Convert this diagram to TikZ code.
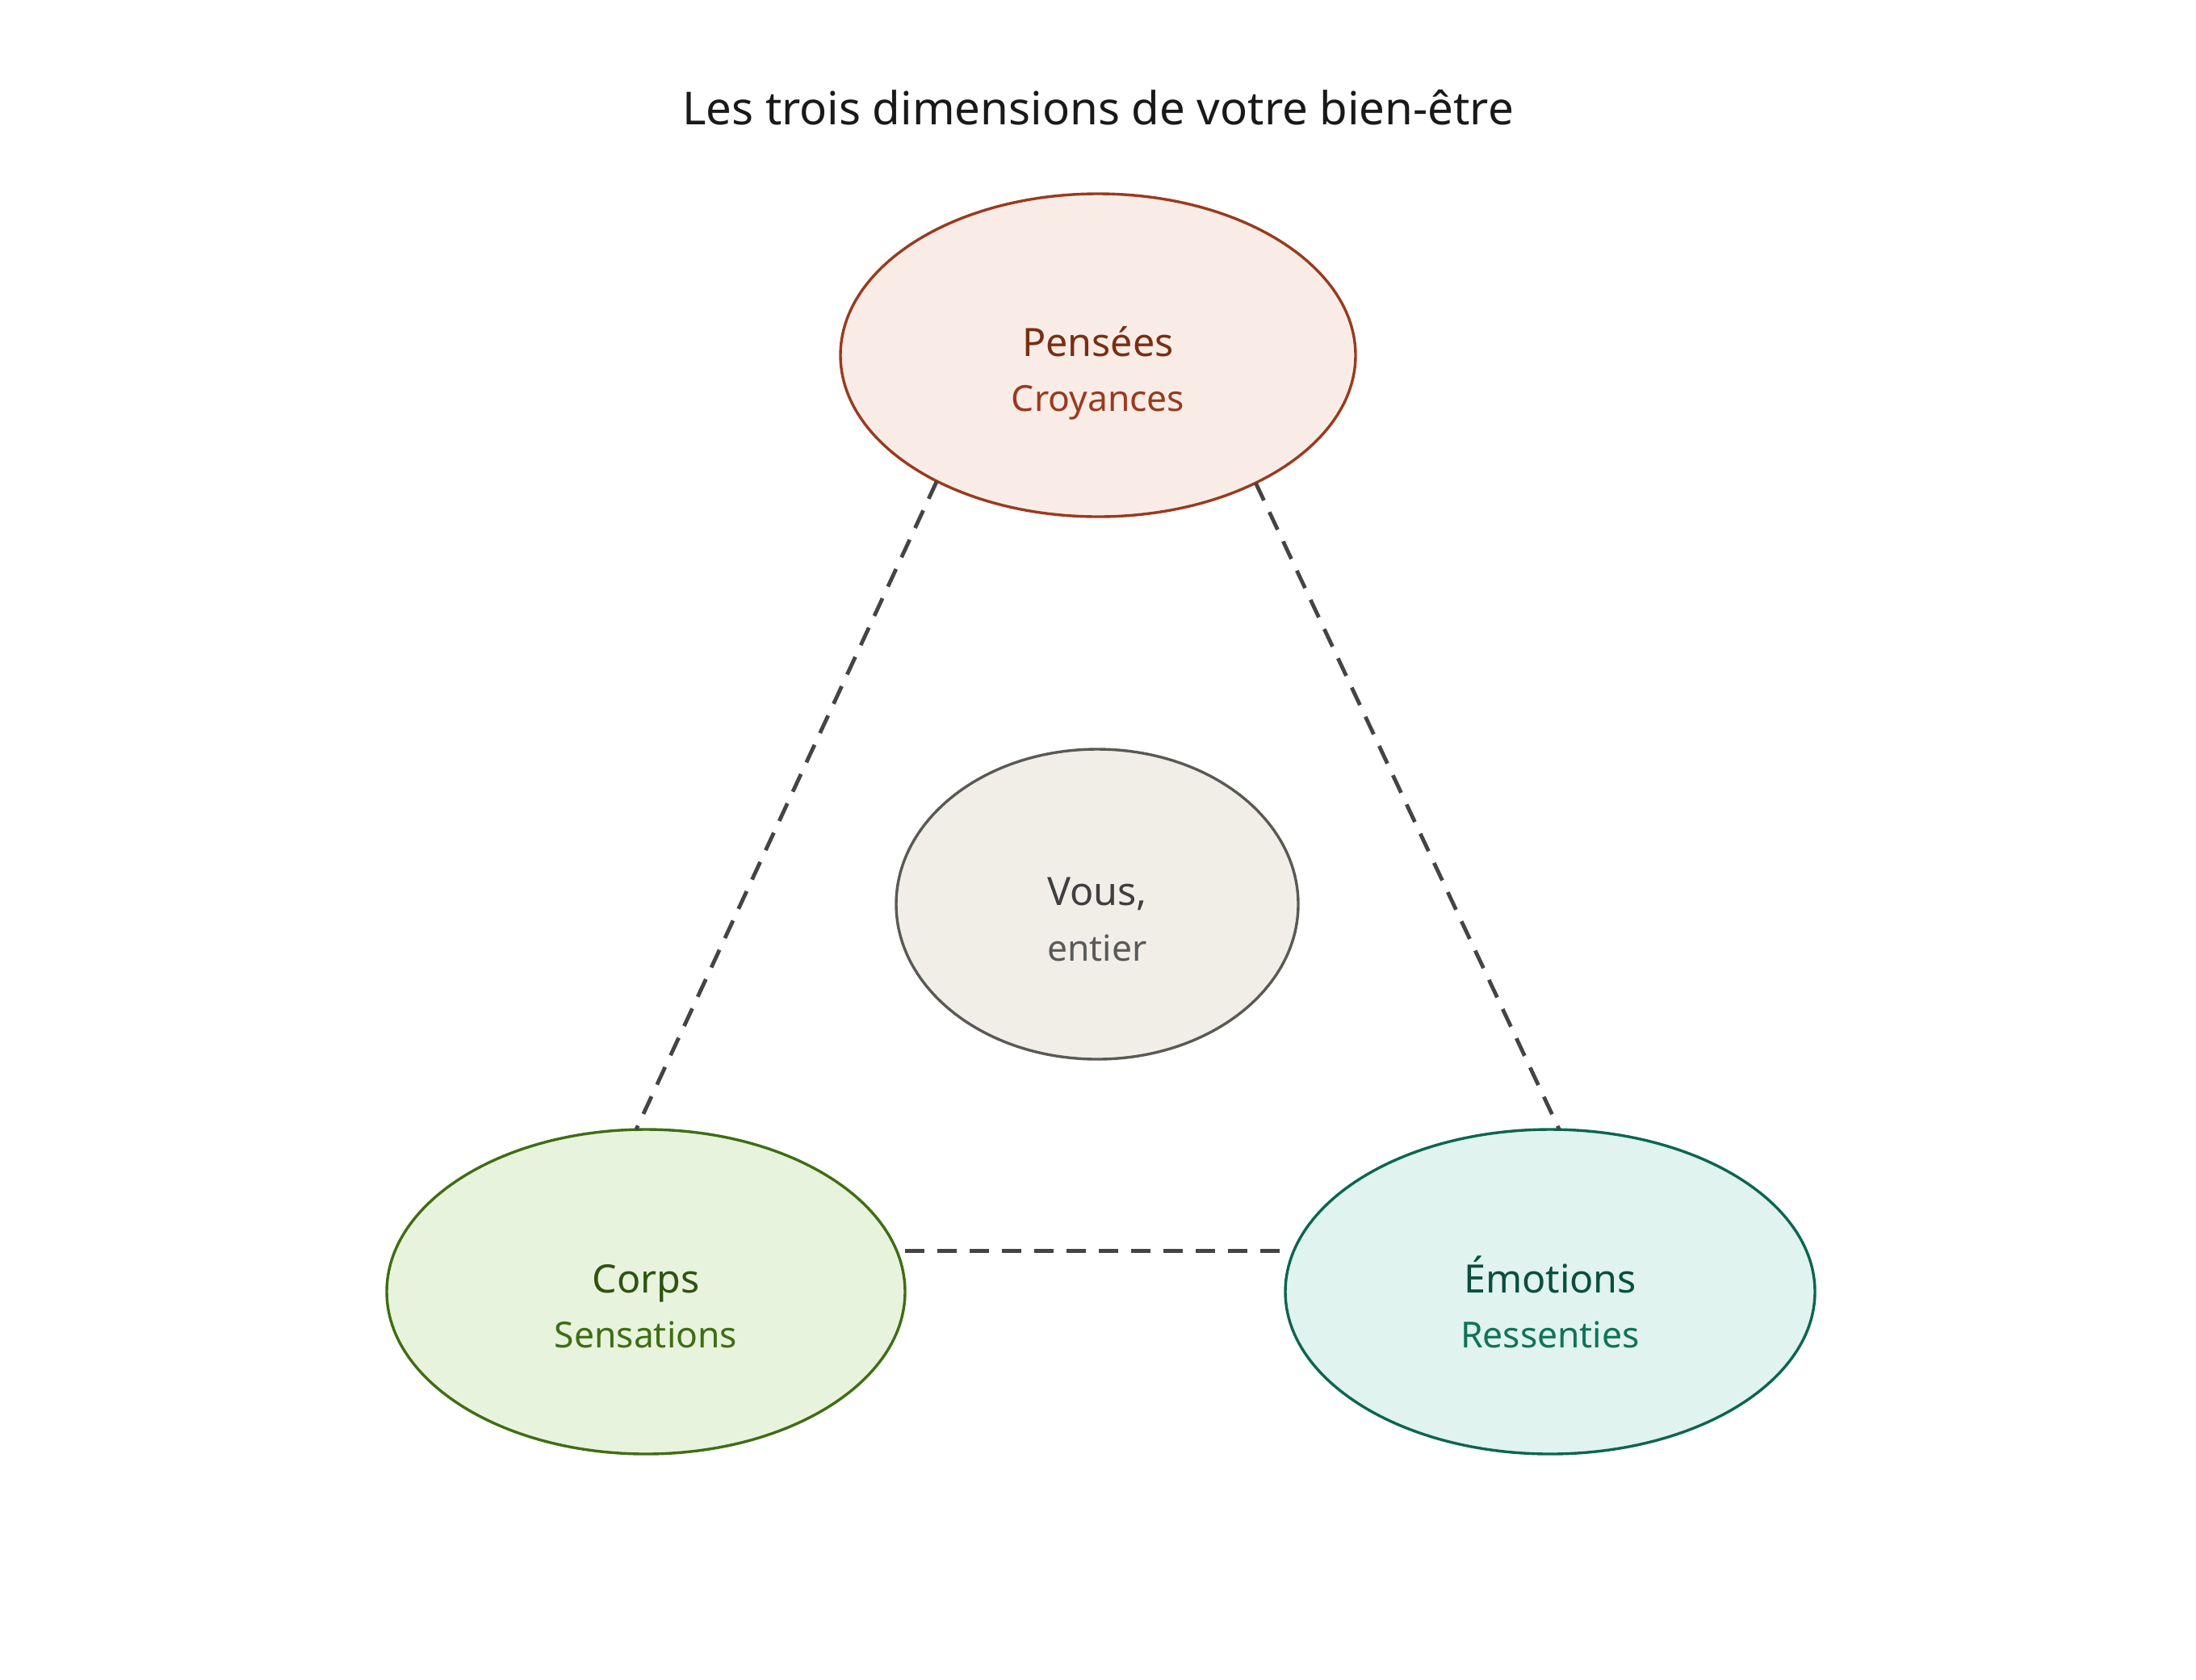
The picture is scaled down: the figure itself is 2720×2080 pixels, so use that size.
\documentclass[tikz,border=0pt]{standalone}
\usepackage{fontspec}
\setmainfont{Noto Sans}
\usetikzlibrary{shapes.geometric}
\definecolor{pFill}{HTML}{F9ECE6}
\definecolor{pLine}{HTML}{9A3A1E}
\definecolor{pText}{HTML}{7A2E12}
\definecolor{vFill}{HTML}{F1EEE8}
\definecolor{vLine}{HTML}{5A5A55}
\definecolor{vText}{HTML}{3F3F3F}
\definecolor{vSub}{HTML}{5A5A5A}
\definecolor{cFill}{HTML}{E8F3DE}
\definecolor{cLine}{HTML}{3F6E12}
\definecolor{cText}{HTML}{2E5410}
\definecolor{eFill}{HTML}{E0F3EE}
\definecolor{eLine}{HTML}{0B6650}
\definecolor{eText}{HTML}{0A4F3E}
\definecolor{eSub}{HTML}{0F7358}
\definecolor{linkGray}{HTML}{444444}
\tikzset{
  blob/.style={ellipse, draw, line width=0.85pt, inner sep=0pt, outer sep=0pt},
  mainlbl/.style={anchor=base, inner sep=0pt, font=\fontsize{12.1}{15}\selectfont},
  sublbl/.style={anchor=base, inner sep=0pt, font=\fontsize{11.1}{14}\selectfont},
  link/.style={draw=linkGray, line width=1.2pt, dash pattern=on 6pt off 4pt},
}
\begin{document}
\begin{tikzpicture}[x=0.25pt, y=-0.25pt]
\useasboundingbox (0,0) rectangle (2720,2080);
\node[anchor=base, inner sep=0pt, font=\fontsize{14.1}{17}\selectfont, text=black!90] (title) at (1360,154) {Les trois dimensions de votre bien-être};

\node[blob, draw=pLine, fill=pFill, minimum width=159.5pt, minimum height=100pt] (P) at (1360,440) {};
\node[blob, draw=vLine, fill=vFill, minimum width=124.5pt, minimum height=96pt] (V) at (1359,1120) {};
\node[blob, draw=cLine, fill=cFill, minimum width=160.5pt, minimum height=100.5pt] (C) at (800,1600) {};
\node[blob, draw=eLine, fill=eFill, minimum width=164pt, minimum height=100.5pt] (E) at (1920,1600) {};

\node[mainlbl, text=pText] (Pt) at (1360,441) {Pensées};
\node[sublbl, text=pLine] (Ps) at (1360,509) {Croyances};
\node[mainlbl, text=vText] (Vt) at (1359,1121) {Vous,};
\node[sublbl, text=vSub] (Vs) at (1359,1190) {entier};
\node[mainlbl, text=cText] (Ct) at (800,1601) {Corps};
\node[sublbl, text=cLine] (Cs) at (800,1669) {Sensations};
\node[mainlbl, text=eText] (Et) at (1920,1601) {Émotions};
\node[sublbl, text=eSub] (Es) at (1920,1669) {Ressenties};

\draw[link] (P.218.75) -- ([xshift=-3pt]C.north);
\draw[link] (P.321) -- ([xshift=2.8pt]E.north);
\draw[link] ([yshift=12.6pt]C.east) -- ([yshift=12.6pt]E.west);
\end{tikzpicture}
\end{document}
